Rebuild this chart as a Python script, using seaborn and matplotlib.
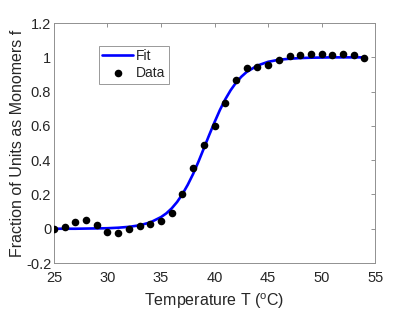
import matplotlib
matplotlib.use("Agg")
import matplotlib.pyplot as plt
import seaborn as sns
import pandas as pd
from matplotlib.ticker import FuncFormatter

temps = [25, 26, 27, 28, 29, 30, 31, 32, 33, 34, 35, 36, 37, 38, 39,
         40, 41, 42, 43, 44, 45, 46, 47, 48, 49, 50, 51, 52, 53, 54]
data_f = [0.0, 0.01, 0.04, 0.053, 0.023, -0.021, -0.027, -0.004, 0.016, 0.029,
          0.043, 0.09, 0.204, 0.354, 0.486, 0.599, 0.731, 0.866, 0.936, 0.944,
          0.953, 0.982, 1.006, 1.012, 1.019, 1.018, 1.012, 1.018, 1.016, 0.998]
fit_t = [25, 26, 27, 28, 29, 30, 31, 32, 33, 34, 35, 35.5, 36, 36.5, 37, 37.5,
         38, 38.5, 39, 39.5, 40, 40.5, 41, 41.5, 42, 42.5, 43, 44, 45, 46, 47,
         48, 49, 50, 51, 52, 53, 54]
fit_f = [0.0, 0.0, 0.0, 0.001, 0.002, 0.003, 0.006, 0.011, 0.02, 0.037, 0.068,
         0.09, 0.119, 0.156, 0.202, 0.257, 0.32, 0.392, 0.469, 0.547, 0.622,
         0.693, 0.755, 0.808, 0.852, 0.887, 0.915, 0.952, 0.974, 0.986, 0.992,
         0.996, 0.998, 0.999, 1.0, 1.0, 1.0, 1.0]
xticks = [25, 30, 35, 40, 45, 50, 55]
yticks = [-0.2, 0, 0.2, 0.4, 0.6, 0.8, 1.0, 1.2]

sns.set_style("white")
plt.rcParams['font.family'] = ['Liberation Sans', 'DejaVu Sans']
plt.rcParams['mathtext.fontset'] = 'custom'
plt.rcParams['mathtext.rm'] = 'Liberation Sans'
plt.rcParams['mathtext.it'] = 'Liberation Sans'

fig = plt.figure(figsize=(4.15, 3.12), dpi=100)
ax = fig.add_axes([0.130, 0.157, 0.774, 0.769])

fit_df = pd.DataFrame({"T": fit_t, "f": fit_f})
data_df = pd.DataFrame({"T": temps, "f": data_f})

sns.lineplot(data=fit_df, x="T", y="f", ax=ax, color="#0000ff", linewidth=1.9,
             label="Fit", zorder=2)
sns.scatterplot(data=data_df, x="T", y="f", ax=ax, color="black", s=30,
                edgecolor="black", linewidth=0, label="Data", zorder=3)

ax.set_xlim(25, 55)
ax.set_ylim(-0.2, 1.2)
ax.set_xticks(xticks)
ax.set_yticks(yticks)
ax.yaxis.set_major_formatter(FuncFormatter(lambda v, p: "%g" % round(v, 2)))
ax.tick_params(direction="in", top=True, right=True, length=3, width=0.6,
               color="#808080", labelsize=10.5, labelcolor="#262626")
ax.tick_params(axis="x", pad=6)
ax.tick_params(axis="y", pad=2)
for s in ax.spines.values():
    s.set_color("#909090")
    s.set_linewidth(0.7)

ax.set_xlabel(r"Temperature T ($^{\mathrm{o}}$C)", fontsize=11.5, color="#262626", labelpad=4)
ax.set_ylabel("Fraction of Units as Monomers f", fontsize=11.5, color="#262626", labelpad=1)

leg = ax.legend(loc="upper left", bbox_to_anchor=(0.14, 0.905), fontsize=10,
                frameon=True, fancybox=False, handlelength=2.2, handletextpad=0.2,
                borderpad=0.25, labelspacing=0.2, borderaxespad=0)
leg.get_frame().set_edgecolor("#808080")
leg.get_frame().set_linewidth(0.7)

fig.savefig("out.png", dpi=100)
